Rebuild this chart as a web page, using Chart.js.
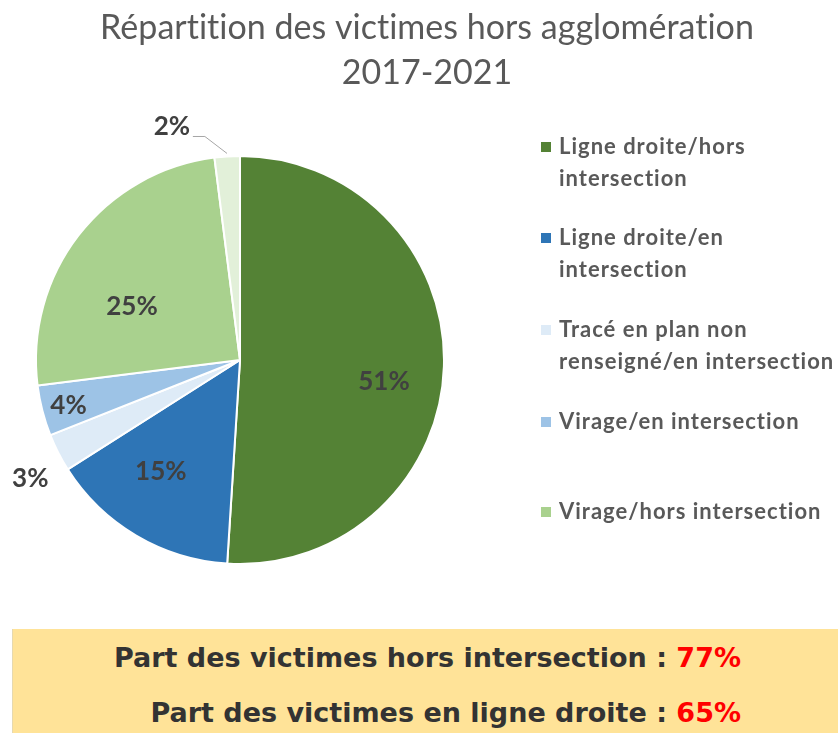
<!DOCTYPE html>
<html lang="fr">
<head>
<meta charset="utf-8">
<title>Répartition des victimes hors agglomération</title>
<script src="https://cdn.jsdelivr.net/npm/chart.js@4.4.1/dist/chart.umd.min.js"></script>
<style>
  html, body { margin: 0; padding: 0; background: #fff; }
  #wrap { position: relative; width: 838px; height: 733px; overflow: hidden; }
  #chart { position: absolute; left: 0; top: 0; }
  #summary {
    position: absolute; left: 12px; top: 629px; width: 826px; height: 104px;
    background: #FFE398; border-left: 1px solid #e6d9b0;
    font-family: 'DejaVu Sans', sans-serif; font-weight: bold; font-size: 27px; color: #333;
  }
  #summary p { position: absolute; right: 98px; margin: 0; line-height: 1; white-space: nowrap; }
  #summary .v { color: #FF0000; }
</style>
</head>
<body>
<div id="wrap">
  <canvas id="chart" width="838" height="733"></canvas>
  <div id="summary"></div>
</div>
<script>
// data
const titleLines = ['Répartition des victimes hors agglomération', '2017-2021'];
const categories = [
    ['Ligne droite/hors', 'intersection'],
    ['Ligne droite/en', 'intersection'],
    ['Tracé en plan non', 'renseigné/en intersection'],
    ['Virage/en intersection'],
    ['Virage/hors intersection'],
    ['Tracé en plan non renseigné/hors intersection']
];
const shares = [51, 15, 3, 4, 25, 2];
const inLegend = [true, true, true, true, true, false];
const summaryLabels = ['Part des victimes hors intersection : ', 'Part des victimes en ligne droite : '];
const summaryValues = ['77%', '65%'];

// styles
const sliceColors = ['#548235', '#2E75B6', '#DEEBF7', '#9DC3E6', '#A9D18E', '#E2F0D9'];
const labelShift = [6.9, 4.8, -2.4, -0.6, -11.6, -12.7];   // degrees from slice middle
const labelDist = [0.714, 0.67, 1.18, 0.87, 0.59, 1.19];    // share of radius
const hasLeader = [false, false, false, false, false, true];
const legendRowY = [147, 238, 330, 422, 512];

// yellow box below the chart
const box = document.getElementById('summary');
const lineTops = [15, 70];
for (let i = 0; i < summaryLabels.length; i++) {
    const p = document.createElement('p');
    p.style.top = lineTops[i] + 'px';
    p.textContent = summaryLabels[i];
    const span = document.createElement('span');
    span.className = 'v';
    span.textContent = summaryValues[i];
    p.appendChild(span);
    box.appendChild(p);
}

const overlay = {
    id: 'overlay',
    afterDatasetsDraw(chart) {
        const ctx = chart.ctx;
        const meta = chart.getDatasetMeta(0);
        ctx.save();
        // no "ti" ligatures, like the original
        ctx.textRendering = 'optimizeSpeed';

        // title
        ctx.fillStyle = '#595959';
        ctx.font = '34px Lato';
        ctx.letterSpacing = '0.02px';
        ctx.textAlign = 'center';
        ctx.textBaseline = 'middle';
        titleLines.forEach(function (t, i) {
            ctx.fillText(t, 427, 28 + i * 45);
        });
        ctx.letterSpacing = '0px';

        // percentages
        ctx.font = 'bold 26px Lato';
        meta.data.forEach(function (arc, i) {
            const p = arc.getProps(['x', 'y', 'startAngle', 'endAngle', 'outerRadius'], true);
            const mid = (p.startAngle + p.endAngle) / 2;
            const a = mid + labelShift[i] * Math.PI / 180;
            const r = p.outerRadius * labelDist[i];
            const x = p.x + Math.cos(a) * r;
            const y = p.y + Math.sin(a) * r;
            ctx.fillStyle = '#404040';
            ctx.fillText(shares[i] + '%', x, y);
            if (hasLeader[i]) {
                ctx.strokeStyle = '#A6A6A6';
                ctx.lineWidth = 1;
                ctx.beginPath();
                ctx.moveTo(x + 21, y + 9.5);
                ctx.lineTo(x + 33, y + 9.5);
                ctx.lineTo(p.x + Math.cos(mid) * (p.outerRadius + 3), p.y + Math.sin(mid) * (p.outerRadius + 3));
                ctx.stroke();
            }
        });

        // legend
        ctx.textAlign = 'left';
        ctx.font = 'bold 22px Lato';
        ctx.letterSpacing = '1px';
        let row = 0;
        chart.data.labels.forEach(function (lines, i) {
            if (!inLegend[i]) {
                return;
            }
            const y = legendRowY[row++];
            ctx.fillStyle = sliceColors[i];
            ctx.fillRect(541, y - 5, 10, 10);
            ctx.fillStyle = '#595959';
            lines.forEach(function (t, k) {
                ctx.fillText(t, 559, y + k * 32);
            });
        });

        ctx.restore();
    }
};

new Chart(document.getElementById('chart'), {
    type: 'pie',
    data: {
        labels: categories,
        datasets: [{
            data: shares,
            backgroundColor: sliceColors,
            borderColor: '#ffffff',
            borderWidth: 2,
        }]
    },
    options: {
        responsive: false,
        devicePixelRatio: 1,
        animation: false,
        radius: 204,
        layout: {
            padding: { top: 100, left: 20, right: 378, bottom: 113 }
        },
        plugins: {
            legend: { display: false },
            title: { display: false },
            tooltip: { enabled: false },
        }
    },
    plugins: [overlay]
});
</script>
</body>
</html>
